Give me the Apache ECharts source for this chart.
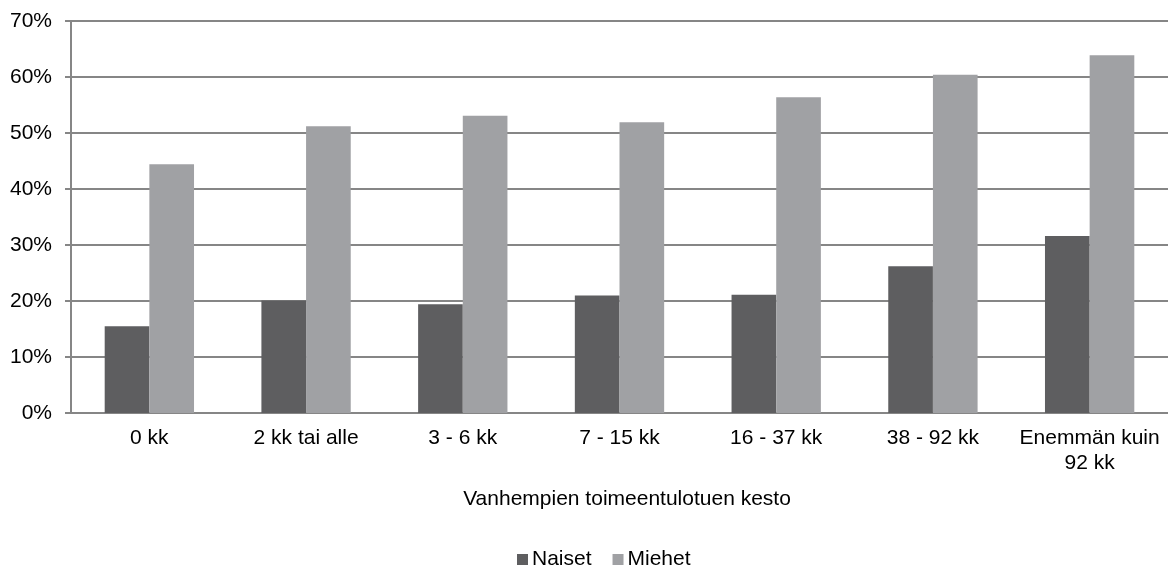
<!DOCTYPE html>
<html>
<head>
<meta charset="utf-8">
<script src="https://cdn.jsdelivr.net/npm/echarts@6/dist/echarts.min.js"></script>
<style>
  html, body { margin: 0; padding: 0; background: #fff; }
  #chart { width: 1168px; height: 569px; }
</style>
</head>
<body>
<div id="chart"></div>
<script>
var categories = ['0 kk', '2 kk tai alle', '3 - 6 kk', '7 - 15 kk', '16 - 37 kk', '38 - 92 kk', 'Enemmän kuin\n92 kk'];
var naiset = [15.5, 20.1, 19.4, 21.0, 21.1, 26.2, 31.6];
var miehet = [44.4, 51.2, 53.1, 51.9, 56.4, 60.4, 63.9];
var yTicks = { min: 0, max: 70, interval: 10 };

var font = 'Liberation Sans, Arial, sans-serif';
var axisGray = '#868686';
var fs = 21;

var chart = echarts.init(document.getElementById('chart'));

var option = {
    animation: false,
    textStyle: { fontFamily: font },
    title: {
        text: 'Vanhempien toimeentulotuen kesto',
        left: 622,
        top: 484,
        textAlign: 'center',
        textStyle: { fontFamily: font, fontSize: fs, fontWeight: 'normal', color: '#000' }
    },
    legend: {
        top: 549,
        left: 517,
        padding: 0,
        itemWidth: 11,
        itemHeight: 11,
        itemGap: 21,
        icon: 'rect',
        textStyle: { fontFamily: font, fontSize: fs, color: '#000', padding: [0, 0, 0, -1] },
        data: ['Naiset', 'Miehet']
    },
    grid: {
        left: 71,
        top: 21,
        width: 1102,
        height: 392,
        containLabel: false
    },
    xAxis: {
        type: 'category',
        data: categories,
        axisLine: { lineStyle: { color: axisGray, width: 2 } },
        axisTick: { length: 5, lineStyle: { color: axisGray, width: 2 } },
        axisLabel: {
            interval: 0,
            margin: 13,
            fontSize: fs,
            lineHeight: 25,
            color: '#000',
            fontFamily: font
        }
    },
    yAxis: {
        type: 'value',
        min: yTicks.min,
        max: yTicks.max,
        interval: yTicks.interval,
        axisLine: { show: true, lineStyle: { color: axisGray, width: 2 } },
        axisTick: { show: true, length: 6, lineStyle: { color: axisGray, width: 2 } },
        axisLabel: {
            formatter: '{value}%',
            margin: 19,
            fontSize: fs,
            color: '#000',
            fontFamily: font
        },
        splitLine: { lineStyle: { color: axisGray, width: 2 } }
    },
    series: [
        {
            name: 'Naiset',
            type: 'bar',
            data: naiset,
            barGap: '0%',
            barCategoryGap: '43%',
            itemStyle: { color: '#5e5e60' }
        },
        {
            name: 'Miehet',
            type: 'bar',
            data: miehet,
            itemStyle: { color: '#a0a1a4' }
        }
    ]
};

chart.setOption(option);
</script>
</body>
</html>
